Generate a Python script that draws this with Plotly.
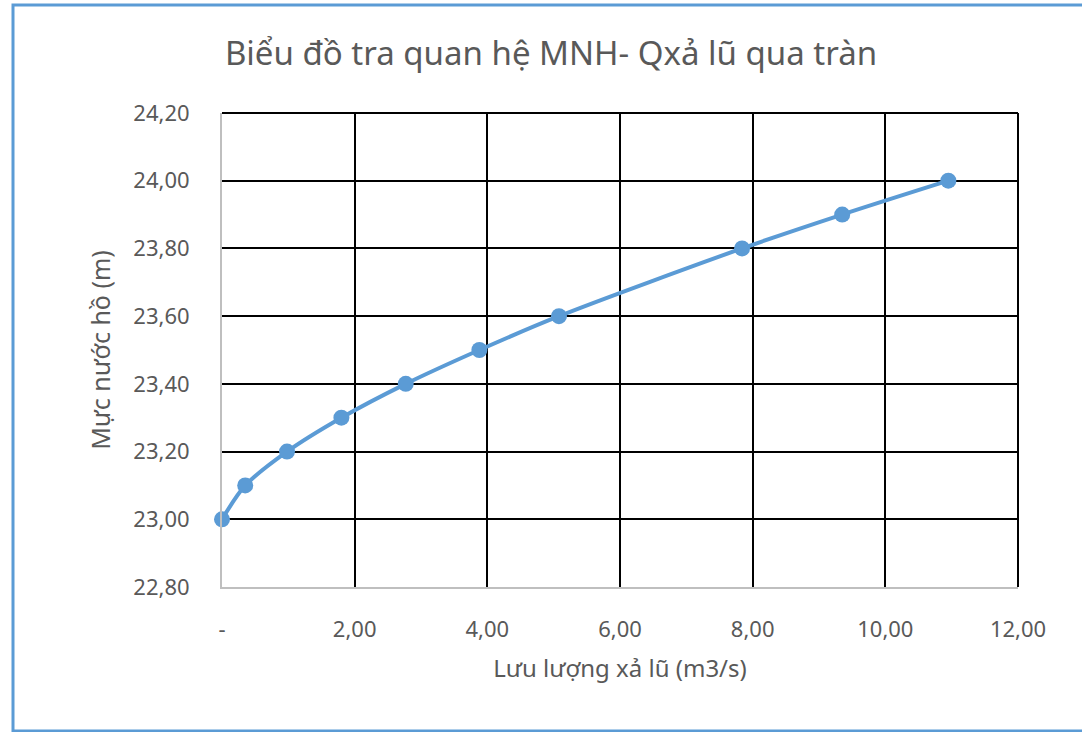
import plotly.graph_objects as go

# Data
q_flow = [0.0, 0.35, 0.98, 1.80, 2.77, 3.88, 5.08, 7.84, 9.35, 10.95]
water_level = [23.00, 23.10, 23.20, 23.30, 23.40, 23.50, 23.60, 23.80, 23.90, 24.00]

x_tickvals = [0, 2, 4, 6, 8, 10, 12]
x_ticktext = ["-", "2,00", "4,00", "6,00", "8,00", "10,00", "12,00"]
y_tickvals = [22.8, 23.0, 23.2, 23.4, 23.6, 23.8, 24.0, 24.2]
y_ticktext = ["22,80", "23,00", "23,20", "23,40", "23,60", "23,80", "24,00", "24,20"]

title_text = "Biểu đồ tra quan hệ MNH- Qxả lũ qua tràn"
x_title = "Lưu lượng xả lũ (m3/s)"
y_title = "Mực nước hồ (m)"

W, H = 1082, 732
L, R, T, B = 222, 64, 113, 145
pw, ph = W - L - R, H - T - B

FONT = "Noto Sans"
GREY = "#595959"
BLUE = "#5B9BD5"

fig = go.Figure()
fig.add_trace(go.Scatter(
    x=q_flow, y=water_level, mode="lines+markers",
    line=dict(color=BLUE, width=4, shape="spline", smoothing=0.8),
    marker=dict(color=BLUE, size=16),
    cliponaxis=False, showlegend=False, hoverinfo="x+y",
))

def px_x(p):
    return (p - L) / pw

def px_y(p):
    return 1 - (p - T) / ph

# Outer chart border (right edge lies outside the picture)
fig.add_shape(type="rect", xref="paper", yref="paper",
              x0=px_x(13), x1=px_x(1095), y0=px_y(5), y1=px_y(731),
              line=dict(color=BLUE, width=3), layer="below")
# Top and right plot-area edges (gridlines at range ends)
fig.add_shape(type="line", xref="paper", yref="paper", x0=0, x1=1, y0=1, y1=1,
              line=dict(color="black", width=2), layer="below")
fig.add_shape(type="line", xref="paper", yref="paper", x0=1, x1=1, y0=0, y1=1,
              line=dict(color="black", width=2), layer="below")

fig.update_layout(
    width=W, height=H,
    margin=dict(l=L, r=R, t=T, b=B),
    paper_bgcolor="white", plot_bgcolor="white",
    font=dict(family=FONT, color=GREY),
    title=dict(text=title_text, x=551 / W, xanchor="center", y=1 - 53 / H, yanchor="middle",
               font=dict(family=FONT, size=33, color=GREY)),
    xaxis=dict(
        range=[0, 12], tickvals=x_tickvals, ticktext=x_ticktext,
        showgrid=True, gridcolor="black", gridwidth=2,
        showline=True, linecolor="#BFBFBF", linewidth=2,
        zeroline=False, ticks="", ticklabelstandoff=22,
        tickfont=dict(family=FONT, size=22, color=GREY),
        title=dict(text=x_title, font=dict(family=FONT, size=24, color=GREY), standoff=18),
    ),
    yaxis=dict(
        range=[22.8, 24.2], tickvals=y_tickvals, ticktext=y_ticktext,
        showgrid=True, gridcolor="black", gridwidth=2,
        showline=True, linecolor="#BFBFBF", linewidth=2,
        zeroline=False, ticks="", ticklabelstandoff=26,
        tickfont=dict(family=FONT, size=22, color=GREY),
        title=dict(text=y_title, font=dict(family=FONT, size=25, color=GREY), standoff=16),
    ),
)

fig.write_html("out.html", config={"displayModeBar": False},
               post_script="document.body.style.margin='0';")
